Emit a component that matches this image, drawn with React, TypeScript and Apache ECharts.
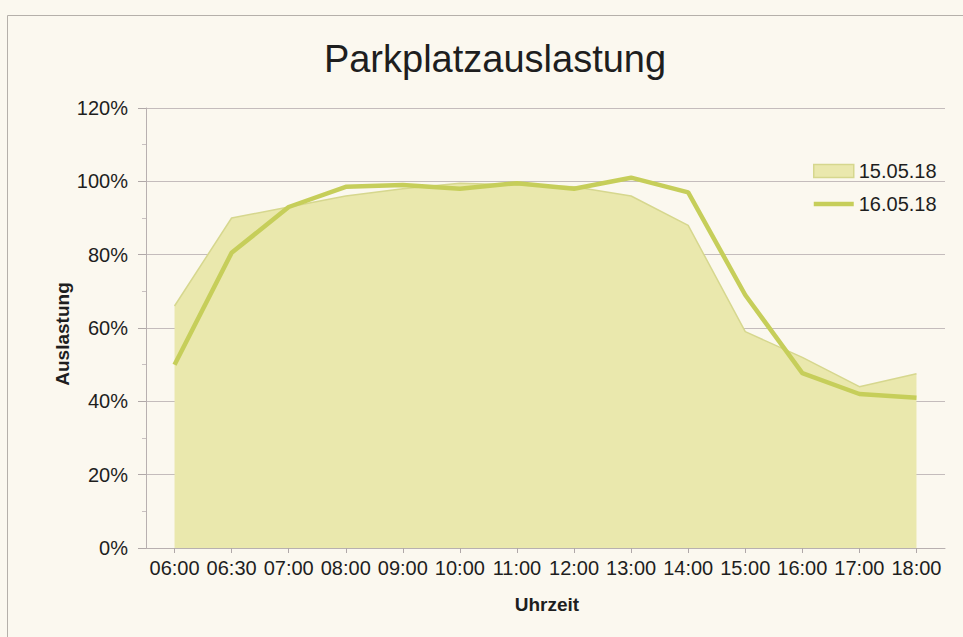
import React, { useEffect, useRef } from "react";
import * as echarts from "echarts";

const categories = ["06:00", "06:30", "07:00", "08:00", "09:00", "10:00", "11:00", "12:00", "13:00", "14:00", "15:00", "16:00", "17:00", "18:00"];
const series1505 = [66, 90, 93, 96, 98, 99.5, 99, 98.5, 96, 88, 59, 52, 44, 47.5];
const series1605 = [50, 80.5, 93, 98.5, 99, 98, 99.5, 98, 101, 97, 69, 47.7, 42, 41];
const yTicks = [0, 20, 40, 60, 80, 100, 120];

const FONT = "Liberation Sans, Arial, Helvetica, sans-serif";
const AREA_FILL = "#eae8ad";
const AREA_EDGE = "#d6d78e";
const LINE_COLOR = "#c6ce5a";
const TEXT = "#1e1e1e";

export default function App() {
  const ref = useRef<HTMLDivElement>(null);
  useEffect(() => {
    if (!ref.current) return;
    const chart = echarts.init(ref.current, null, { renderer: "svg" });
    chart.setOption({
      animation: false,
      backgroundColor: "#fbf8ef",
      title: {
        text: "Parkplatzauslastung",
        left: 490,
        top: 35,
        textAlign: "center",
        textStyle: { fontFamily: FONT, fontSize: 38, fontWeight: "normal", color: TEXT },
      },
      legend: {
        orient: "vertical",
        left: 808,
        top: 156,
        itemWidth: 40,
        itemHeight: 13,
        itemGap: 13,
        textStyle: { fontFamily: FONT, fontSize: 20, color: TEXT, padding: [0, 0, 0, 0] },
        data: [
          { name: "15.05.18", icon: "rect", itemStyle: { color: AREA_FILL, borderColor: AREA_EDGE, borderWidth: 1.5 } },
          { name: "16.05.18", icon: "path://M0,0 L40,0 L40,4.5 L0,4.5 Z", itemStyle: { color: LINE_COLOR } },
        ],
      },
      grid: { left: 146, right: 18, top: 108, bottom: 89, containLabel: false },
      xAxis: {
        type: "category",
        data: categories,
        boundaryGap: true,
        axisLine: { lineStyle: { color: "#b8b0b0", width: 1 } },
        axisTick: { show: true, alignWithLabel: true, length: 5, lineStyle: { color: "#b0a8a8" } },
        axisLabel: { interval: 0, fontFamily: FONT, fontSize: 20, color: TEXT, margin: 10 },
      },
      yAxis: {
        type: "value",
        min: yTicks[0],
        max: yTicks[yTicks.length - 1],
        interval: 20,
        axisLine: { show: true, lineStyle: { color: "#b8b0b0", width: 1 } },
        axisTick: { show: true, length: 8, lineStyle: { color: "#b0a8a8" } },
        minorTick: { show: true, splitNumber: 2, length: 4, lineStyle: { color: "#c8c0c0" } },
        splitLine: { show: true, lineStyle: { color: "#c4bcbc", width: 1 } },
        axisLabel: { formatter: "{value}%", fontFamily: FONT, fontSize: 20, color: TEXT, margin: 18 },
      },
      graphic: [
        {
          type: "rect",
          shape: { x: 7.5, y: 15.5, width: 970, height: 640 },
          style: { fill: "none", stroke: "#b5b0aa", lineWidth: 1 },
          silent: true,
        },
        {
          type: "text",
          x: 62,
          y: 334,
          rotation: Math.PI / 2,
          style: { text: "Auslastung", fontFamily: FONT, fontSize: 19, fontWeight: "bold", fill: TEXT, textAlign: "center", textVerticalAlign: "middle" },
        },
        {
          type: "text",
          x: 547,
          y: 604,
          style: { text: "Uhrzeit", fontFamily: FONT, fontSize: 19, fontWeight: "bold", fill: TEXT, textAlign: "center", textVerticalAlign: "middle" },
        },
      ],
      series: [
        {
          name: "15.05.18",
          type: "line",
          data: series1505,
          showSymbol: false,
          symbol: "none",
          lineStyle: { color: AREA_EDGE, width: 1.5 },
          itemStyle: { color: AREA_FILL },
          areaStyle: { color: AREA_FILL, opacity: 1 },
          z: 2,
        },
        {
          name: "16.05.18",
          type: "line",
          data: series1605,
          showSymbol: false,
          symbol: "none",
          lineStyle: { color: LINE_COLOR, width: 4.5 },
          itemStyle: { color: LINE_COLOR },
          z: 3,
        },
      ],
    });
    return () => chart.dispose();
  }, []);
  return <div ref={ref} style={{ position: "absolute", left: 0, top: 0, width: 963, height: 637 }} />;
}
